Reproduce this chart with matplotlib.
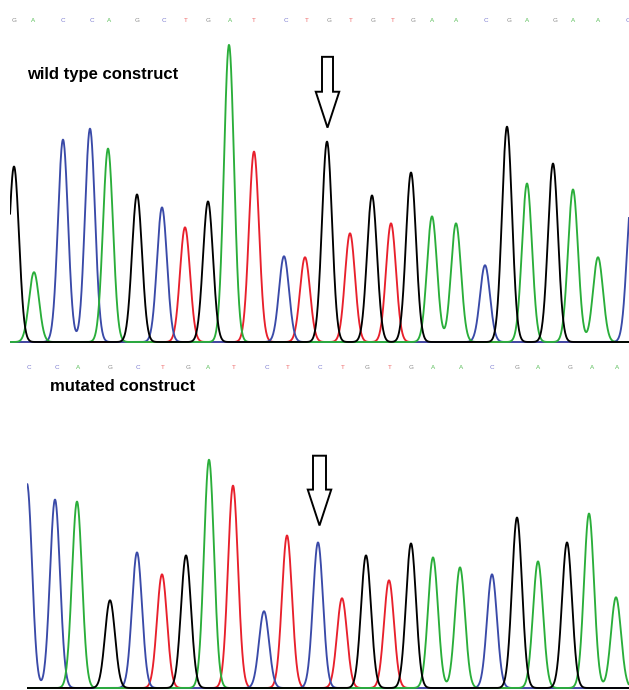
import numpy as np
import matplotlib
matplotlib.use("Agg")
import matplotlib.pyplot as plt
from matplotlib.patches import FancyArrow

plt.rcParams['font.family'] = ['Liberation Sans', 'DejaVu Sans']

# base calls and trace peaks (scan position, peak intensity)
wt_bases = "GACCAGCTGATCTGTGTGAACGAGAAC"
wt_call_pos = [14, 33, 63, 92, 109, 137, 164, 186, 208, 230, 254, 286, 307, 329,
               351, 373, 393, 413, 432, 456, 486, 509, 527, 555, 573, 598, 628]
wt_peak_pos = [14, 34, 63, 90, 108, 137, 162, 185, 208, 229, 254, 284, 305, 327,
               350, 372, 391, 411, 432, 456, 485, 507, 527, 553, 573, 598, 632]
wt_peak_h = [176, 70, 203, 214, 194, 148, 135, 115, 141, 298, 191, 86, 85, 201,
             109, 147, 119, 170, 126, 119, 77, 216, 159, 179, 153, 85, 150]

mut_bases = "CCAGCTGATCTCTGTGAACGAGAA"
mut_call_pos = [29, 57, 78, 110, 138, 163, 188, 208, 234, 267, 288, 320, 343, 367,
                390, 411, 433, 461, 492, 517, 538, 570, 592, 617]
mut_peak_pos = [27, 55, 77, 110, 137, 162, 186, 209, 233, 264, 287, 318, 342, 366,
                389, 411, 433, 460, 492, 517, 538, 567, 589, 616]
mut_peak_h = [205, 189, 187, 88, 136, 114, 133, 229, 203, 77, 153, 146, 90, 133,
              108, 145, 131, 121, 114, 171, 127, 146, 175, 91]

trace_col = {'G': 'black', 'A': '#2aae3a', 'C': '#3a4aa8', 'T': '#e8202c'}
call_col = {'G': '#8a8a8a', 'A': '#5cbf5c', 'C': '#7a7ad0', 'T': '#ee6a6a'}
sigma = 5.0

W, H = 629, 690
fig = plt.figure(figsize=(W / 100, H / 100), dpi=100)


def panel(rect, x0, top, call_y, bases, call_pos, peak_pos, peak_h, label, label_x,
          label_y, arrow_x, arrow_top, arrow_tip, shaft_w):
    ax = fig.add_axes(rect)
    ax.set_xlim(x0, W)
    ax.set_ylim(-1, top)
    ax.axis('off')
    x = np.linspace(x0, W, 2000)
    for b in "TCAG":
        y = np.zeros_like(x)
        for p, h, bb in zip(peak_pos, peak_h, bases):
            if bb == b:
                y += h * np.exp(-(x - p) ** 2 / (2 * sigma ** 2))
        ax.plot(x, y, color=trace_col[b], lw=1.35, solid_capstyle='butt')
    for p, b in zip(call_pos, bases):
        ax.text(p, call_y, b, color=call_col[b], fontsize=4.5, ha='center', va='center')
    ax.text(label_x, label_y, label, fontsize=12, fontweight='bold', ha='left', va='center')
    ax.add_patch(FancyArrow(arrow_x, arrow_top, 0, arrow_tip - arrow_top, width=shaft_w,
                            head_width=23.5, head_length=36, length_includes_head=True,
                            fc='white', ec='black', lw=1.4, clip_on=False))
    return ax


panel([10 / W, (H - 343) / H, (W - 10) / W, 343 / H], 10, 343, 322,
      wt_bases, wt_call_pos, wt_peak_pos, wt_peak_h,
      "wild type construct", 27, 268, 327.5, 286, 215, 11)

panel([27 / W, 1 / H, (W - 27) / W, 334 / H], 27, 334, 321,
      mut_bases, mut_call_pos, mut_peak_pos, mut_peak_h,
      "mutated construct", 50, 302, 319.5, 233, 163, 13)

fig.savefig("out.png", dpi=100)
